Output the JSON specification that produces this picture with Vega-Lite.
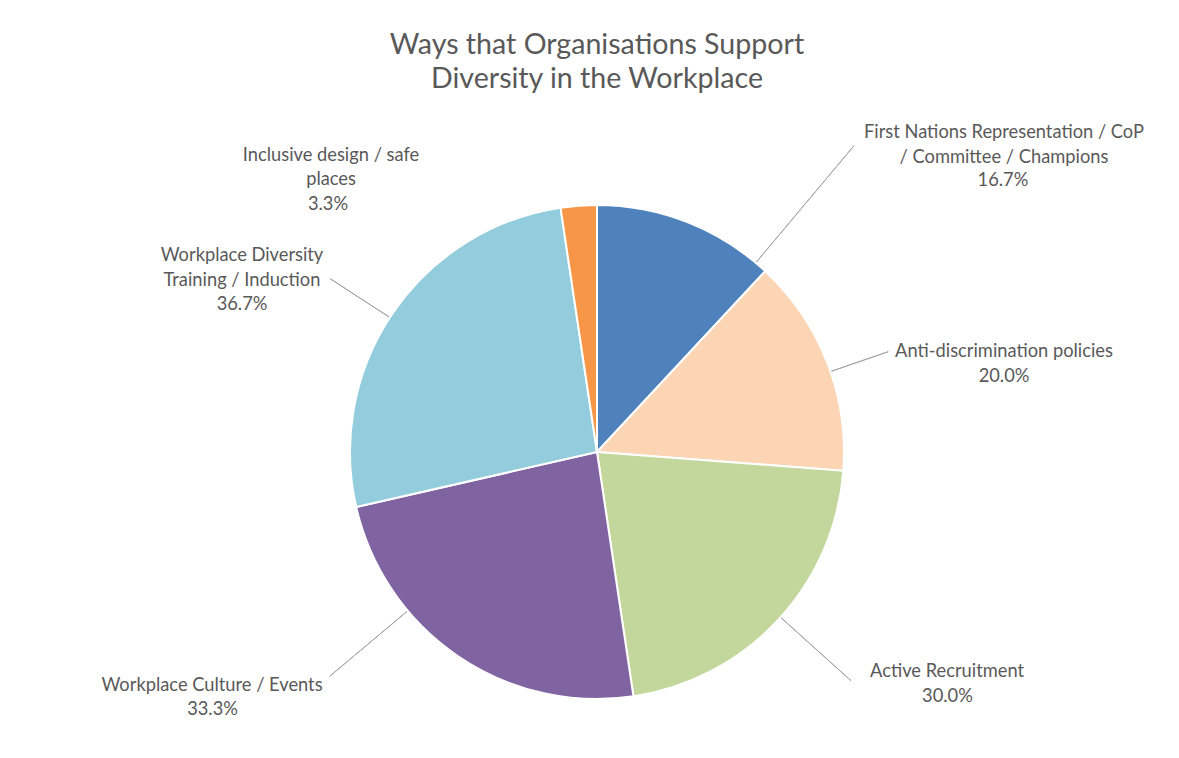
{
  "$schema": "https://vega.github.io/schema/vega-lite/v6.json",
  "autosize": {"type": "none"},
  "width": 1154,
  "height": 610,
  "padding": {"left": 20, "top": 147, "right": 5, "bottom": 1},
  "background": "#ffffff",
  "title": {
    "text": ["Ways that Organisations Support", "Diversity in the Workplace"],
    "font": "Lato",
    "fontSize": 28.6,
    "fontWeight": "normal",
    "color": "#595959",
    "lineHeight": 34,
    "anchor": "middle",
    "frame": "group",
    "offset": 29
  },
  "config": {"view": {"stroke": null}},
  "data": {
    "values": [
      {"idx": 1, "name": "First Nations Representation / CoP\n/ Committee / Champions", "value": 0.167},
      {"idx": 2, "name": "Anti-discrimination policies", "value": 0.2},
      {"idx": 3, "name": "Active Recruitment", "value": 0.3},
      {"idx": 4, "name": "Workplace Culture / Events", "value": 0.333},
      {"idx": 5, "name": "Workplace Diversity\nTraining / Induction", "value": 0.367},
      {"idx": 6, "name": "Inclusive design / safe\nplaces", "value": 0.033}
    ]
  },
  "transform": [
    {"stack": "value", "groupby": [], "sort": [{"field": "idx", "order": "ascending"}], "as": ["v0", "v1"]}
  ],
  "layer": [
    {
      "mark": {"type": "arc", "outerRadius": 247, "stroke": "#ffffff", "strokeWidth": 2},
      "encoding": {
        "theta": {"field": "value", "type": "quantitative", "stack": true},
        "order": {"field": "idx", "type": "quantitative"},
        "color": {
          "field": "name",
          "type": "nominal",
          "scale": {
            "domain": [
              "First Nations Representation / CoP\n/ Committee / Champions",
              "Anti-discrimination policies",
              "Active Recruitment",
              "Workplace Culture / Events",
              "Workplace Diversity\nTraining / Induction",
              "Inclusive design / safe\nplaces"
            ],
            "range": ["#4F81BD", "#FCD5B5", "#C3D69B", "#8064A2", "#93CDDD", "#F79646"]
          },
          "legend": null
        }
      }
    },
    {
      "transform": [{"filter": "datum.idx === 1"}],
      "mark": {"type": "arc", "filled": false, "stroke": "#a6a6a6", "strokeWidth": 1, "innerRadius": 248, "outerRadius": 400, "padAngle": 3, "thetaOffset": 0.3234, "theta2Offset": 0.3234},
      "encoding": {"theta": {"field": "v0", "type": "quantitative"}, "theta2": {"field": "v1"}}
    },
    {
      "transform": [{"filter": "datum.idx === 2"}],
      "mark": {"type": "arc", "filled": false, "stroke": "#a6a6a6", "strokeWidth": 1, "innerRadius": 248, "outerRadius": 308, "padAngle": 3, "thetaOffset": 0.0408, "theta2Offset": 0.0408},
      "encoding": {"theta": {"field": "v0", "type": "quantitative"}, "theta2": {"field": "v1"}}
    },
    {
      "transform": [{"filter": "datum.idx === 3"}],
      "mark": {"type": "arc", "filled": false, "stroke": "#a6a6a6", "strokeWidth": 1, "innerRadius": 248, "outerRadius": 342, "padAngle": 3, "thetaOffset": -0.0164, "theta2Offset": -0.0164},
      "encoding": {"theta": {"field": "v0", "type": "quantitative"}, "theta2": {"field": "v1"}}
    },
    {
      "transform": [{"filter": "datum.idx === 4"}],
      "mark": {"type": "arc", "filled": false, "stroke": "#a6a6a6", "strokeWidth": 1, "innerRadius": 248, "outerRadius": 349, "padAngle": 3, "thetaOffset": 0.2735, "theta2Offset": 0.2735},
      "encoding": {"theta": {"field": "v0", "type": "quantitative"}, "theta2": {"field": "v1"}}
    },
    {
      "transform": [{"filter": "datum.idx === 5"}],
      "mark": {"type": "arc", "filled": false, "stroke": "#a6a6a6", "strokeWidth": 1, "innerRadius": 248, "outerRadius": 318, "padAngle": 3, "thetaOffset": -0.0232, "theta2Offset": -0.0232},
      "encoding": {"theta": {"field": "v0", "type": "quantitative"}, "theta2": {"field": "v1"}}
    },
    {
      "transform": [{"filter": "datum.idx === 1"}],
      "mark": {"type": "text", "radius": 517.1, "thetaOffset": 0.906, "font": "Lato", "fontSize": 18.3, "color": "#595959", "align": "center", "baseline": "middle", "lineBreak": "\n", "lineHeight": 24.5},
      "encoding": {"theta": {"field": "v0", "type": "quantitative"}, "text": {"field": "name", "type": "nominal"}}
    },
    {
      "transform": [{"filter": "datum.idx === 1"}],
      "mark": {"type": "text", "radius": 488.1, "thetaOffset": 0.9823, "font": "Lato", "fontSize": 18.3, "color": "#595959", "align": "center", "baseline": "middle"},
      "encoding": {"theta": {"field": "v0", "type": "quantitative"}, "text": {"field": "value", "type": "quantitative", "format": ".1%"}}
    },
    {
      "transform": [{"filter": "datum.idx === 2"}],
      "mark": {"type": "text", "radius": 419.1, "thetaOffset": 0.5804, "font": "Lato", "fontSize": 18.3, "color": "#595959", "align": "center", "baseline": "middle", "lineBreak": "\n", "lineHeight": 24.5},
      "encoding": {"theta": {"field": "v0", "type": "quantitative"}, "text": {"field": "name", "type": "nominal"}}
    },
    {
      "transform": [{"filter": "datum.idx === 2"}],
      "mark": {"type": "text", "radius": 413.9, "thetaOffset": 0.6391, "font": "Lato", "fontSize": 18.3, "color": "#595959", "align": "center", "baseline": "middle"},
      "encoding": {"theta": {"field": "v0", "type": "quantitative"}, "text": {"field": "value", "type": "quantitative", "format": ".1%"}}
    },
    {
      "transform": [{"filter": "datum.idx === 3"}],
      "mark": {"type": "text", "radius": 413.4, "thetaOffset": 0.4847, "font": "Lato", "fontSize": 18.3, "color": "#595959", "align": "center", "baseline": "middle", "lineBreak": "\n", "lineHeight": 24.5},
      "encoding": {"theta": {"field": "v0", "type": "quantitative"}, "text": {"field": "name", "type": "nominal"}}
    },
    {
      "transform": [{"filter": "datum.idx === 3"}],
      "mark": {"type": "text", "radius": 427.6, "thetaOffset": 0.5337, "font": "Lato", "fontSize": 18.3, "color": "#595959", "align": "center", "baseline": "middle"},
      "encoding": {"theta": {"field": "v0", "type": "quantitative"}, "text": {"field": "value", "type": "quantitative", "format": ".1%"}}
    },
    {
      "transform": [{"filter": "datum.idx === 4"}],
      "mark": {"type": "text", "radius": 450.5, "thetaOffset": 1.1728, "font": "Lato", "fontSize": 18.3, "color": "#595959", "align": "center", "baseline": "middle", "lineBreak": "\n", "lineHeight": 24.5},
      "encoding": {"theta": {"field": "v0", "type": "quantitative"}, "text": {"field": "name", "type": "nominal"}}
    },
    {
      "transform": [{"filter": "datum.idx === 4"}],
      "mark": {"type": "text", "radius": 463.0, "thetaOffset": 1.1279, "font": "Lato", "fontSize": 18.3, "color": "#595959", "align": "center", "baseline": "middle"},
      "encoding": {"theta": {"field": "v0", "type": "quantitative"}, "text": {"field": "value", "type": "quantitative", "format": ".1%"}}
    },
    {
      "transform": [{"filter": "datum.idx === 5"}],
      "mark": {"type": "text", "radius": 405.5, "thetaOffset": 0.7288, "font": "Lato", "fontSize": 18.3, "color": "#595959", "align": "center", "baseline": "middle", "lineBreak": "\n", "lineHeight": 24.5},
      "encoding": {"theta": {"field": "v0", "type": "quantitative"}, "text": {"field": "name", "type": "nominal"}}
    },
    {
      "transform": [{"filter": "datum.idx === 5"}],
      "mark": {"type": "text", "radius": 384.2, "thetaOffset": 0.6169, "font": "Lato", "fontSize": 18.3, "color": "#595959", "align": "center", "baseline": "middle"},
      "encoding": {"theta": {"field": "v0", "type": "quantitative"}, "text": {"field": "value", "type": "quantitative", "format": ".1%"}}
    },
    {
      "transform": [{"filter": "datum.idx === 6"}],
      "mark": {"type": "text", "radius": 397.96, "thetaOffset": -0.5839, "font": "Lato", "fontSize": 18.3, "color": "#595959", "align": "center", "baseline": "middle", "lineBreak": "\n", "lineHeight": 24.5},
      "encoding": {"theta": {"field": "v0", "type": "quantitative"}, "text": {"field": "name", "type": "nominal"}}
    },
    {
      "transform": [{"filter": "datum.idx === 6"}],
      "mark": {"type": "text", "radius": 365.2, "thetaOffset": -0.6799, "font": "Lato", "fontSize": 18.3, "color": "#595959", "align": "center", "baseline": "middle"},
      "encoding": {"theta": {"field": "v0", "type": "quantitative"}, "text": {"field": "value", "type": "quantitative", "format": ".1%"}}
    }
  ]
}
